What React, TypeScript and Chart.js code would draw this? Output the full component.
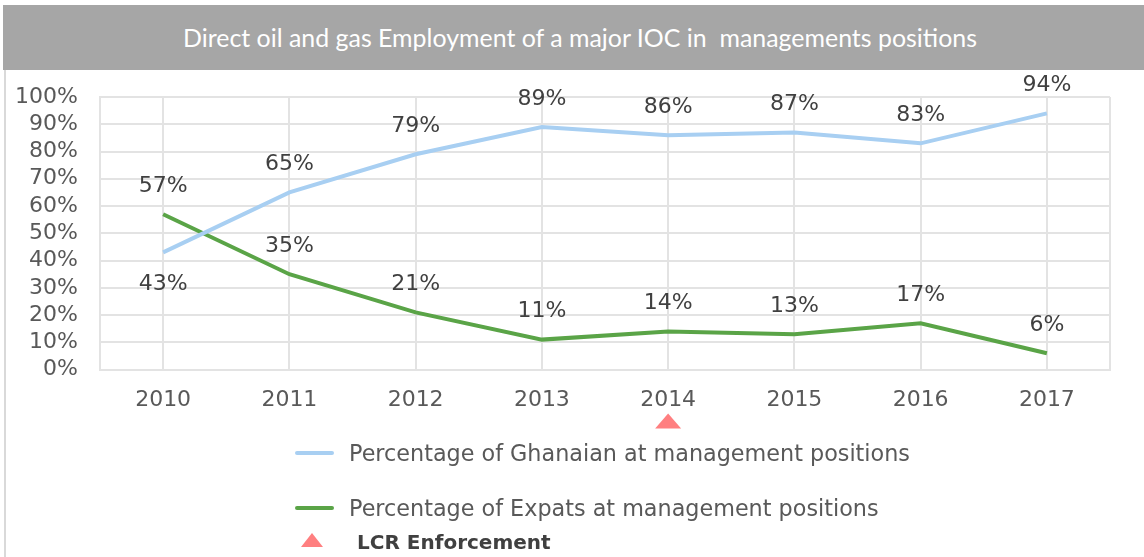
import React, { useEffect, useLayoutEffect, useRef } from "react";
import { Chart, registerables } from "chart.js";

Chart.register(...registerables);

const years = ["2010", "2011", "2012", "2013", "2014", "2015", "2016", "2017"];
const ghanaianPct = [43, 65, 79, 89, 86, 87, 83, 94];
const expatPct = [57, 35, 21, 11, 14, 13, 17, 6];
const lcrYear = "2014";

const titleText = "Direct oil and gas Employment of a major IOC in  managements positions";
const ghanaianLabel = "Percentage of Ghanaian at management positions";
const expatLabel = "Percentage of Expats at management positions";
const lcrLabel = "LCR Enforcement";

const BLUE = "#a8cff2";
const GREEN = "#5aa447";
const PINK = "#ff7f80";
const FONT = "'DejaVu Sans', Verdana, sans-serif";

const framePlugin = {
  id: "frame",
  beforeDatasetsDraw(chart: any) {
    const { ctx, chartArea } = chart;
    ctx.save();
    ctx.strokeStyle = "#e3e3e3";
    ctx.lineWidth = 2;
    ctx.beginPath();
    ctx.moveTo(chartArea.right, chartArea.top);
    ctx.lineTo(chartArea.right, chartArea.bottom);
    ctx.stroke();
    ctx.restore();
  },
};

const labelPlugin = {
  id: "pctLabels",
  afterDatasetsDraw(chart: any) {
    const { ctx } = chart;
    ctx.save();
    ctx.font = `22px ${FONT}`;
    ctx.fillStyle = "#404040";
    ctx.textAlign = "center";
    ctx.textBaseline = "middle";
    const g = chart.data.datasets[0].data;
    const e = chart.data.datasets[1].data;
    chart.data.datasets.forEach((ds: any, di: number) => {
      const meta = chart.getDatasetMeta(di);
      meta.data.forEach((pt: any, i: number) => {
        const v = ds.data[i];
        const below = di === 0 && g[i] < e[i];
        const y = below ? pt.y + 32 : pt.y - 28;
        ctx.fillText(v + "%", pt.x, y);
      });
    });
    ctx.restore();
  },
};

const lcrPlugin = {
  id: "lcrMarker",
  afterDraw(chart: any) {
    const { ctx, scales } = chart;
    const x = scales.x.getPixelForValue(years.indexOf(lcrYear));
    const top = scales.x.top + 44;
    ctx.save();
    ctx.fillStyle = PINK;
    ctx.beginPath();
    ctx.moveTo(x, top);
    ctx.lineTo(x + 13, top + 15);
    ctx.lineTo(x - 13, top + 15);
    ctx.closePath();
    ctx.fill();
    ctx.restore();
  },
};

export default function App() {
  const canvasRef = useRef<HTMLCanvasElement>(null);
  const titleRef = useRef<HTMLSpanElement>(null);

  useLayoutEffect(() => {
    const el = titleRef.current;
    if (!el) return;
    const w = el.getBoundingClientRect().width;
    if (w > 0) el.style.transform = `scaleX(${794 / w})`;
  }, []);

  useEffect(() => {
    if (!canvasRef.current) return;
    const chart = new Chart(canvasRef.current, {
      type: "line",
      data: {
        labels: years,
        datasets: [
          {
            label: ghanaianLabel,
            data: ghanaianPct,
            borderColor: BLUE,
            backgroundColor: BLUE,
            borderWidth: 4,
            pointRadius: 0,
            tension: 0,
          },
          {
            label: expatLabel,
            data: expatPct,
            borderColor: GREEN,
            backgroundColor: GREEN,
            borderWidth: 4,
            pointRadius: 0,
            tension: 0,
          },
        ],
      },
      options: {
        animation: false,
        responsive: false,
        maintainAspectRatio: false,
        layout: { padding: { top: 97, right: 34, bottom: 127, left: 0 } },
        plugins: {
          legend: { display: false },
          title: { display: false },
          tooltip: { enabled: false },
        },
        scales: {
          x: {
            offset: true,
            grid: { color: "#e3e3e3", lineWidth: 2, drawTicks: false },
            border: { color: "#e3e3e3", width: 2 },
            ticks: { color: "#595959", font: { family: FONT, size: 22 }, padding: 17 },
          },
          y: {
            min: 0,
            max: 100,
            afterFit(scale: any) {
              scale.width = 100;
            },
            grid: { color: "#e3e3e3", lineWidth: 2, drawTicks: false },
            border: { color: "#e3e3e3", width: 2 },
            ticks: {
              stepSize: 10,
              autoSkip: false,
              color: "#595959",
              font: { family: FONT, size: 22, lineHeight: 1.1 },
              padding: 22,
              callback: (v: any) => v + "%",
            },
          },
        },
      },
      plugins: [framePlugin, labelPlugin, lcrPlugin],
    } as any);
    return () => chart.destroy();
  }, []);

  const legendText: React.CSSProperties = {
    position: "absolute",
    left: 349,
    fontFamily: FONT,
    fontSize: 22.3,
    color: "#595959",
    lineHeight: "26px",
    whiteSpace: "nowrap",
  };

  return (
    <div style={{ position: "fixed", left: 0, top: 0, width: 1144, height: 557, background: "#fff", overflow: "hidden" }}>
      <canvas ref={canvasRef} width={1144} height={557} style={{ position: "absolute", left: 0, top: 0 }} />
      <div
        style={{
          position: "absolute",
          left: 3,
          top: 5,
          width: 1141,
          height: 65,
          background: "#a6a6a6",
        }}
      >
        <span
          ref={titleRef}
          style={{
            position: "absolute",
            left: 180,
            top: 16,
            color: "#fff",
            fontFamily: "Lato, 'Open Sans', sans-serif",
            fontSize: 25,
            lineHeight: "32px",
            whiteSpace: "pre",
            transformOrigin: "0 0",
          }}
        >
          {titleText}
        </span>
      </div>
      <div style={{ position: "absolute", left: 4, top: 70, width: 2, height: 487, background: "#d9d9d9" }} />
      <div style={{ position: "absolute", left: 295, top: 451, width: 39, height: 4, background: BLUE, borderRadius: 2 }} />
      <div style={{ ...legendText, top: 440 }}>{ghanaianLabel}</div>
      <div style={{ position: "absolute", left: 295, top: 506, width: 39, height: 4, background: GREEN, borderRadius: 2 }} />
      <div style={{ ...legendText, top: 495 }}>{expatLabel}</div>
      <svg style={{ position: "absolute", left: 300, top: 532 }} width={24} height={16}>
        <polygon points="12,1 23,15 1,15" fill={PINK} />
      </svg>
      <div
        style={{
          position: "absolute",
          left: 357,
          top: 530,
          fontFamily: FONT,
          fontSize: 20,
          fontWeight: "bold",
          color: "#404040",
          lineHeight: "24px",
          whiteSpace: "nowrap",
        }}
      >
        {lcrLabel}
      </div>
    </div>
  );
}
